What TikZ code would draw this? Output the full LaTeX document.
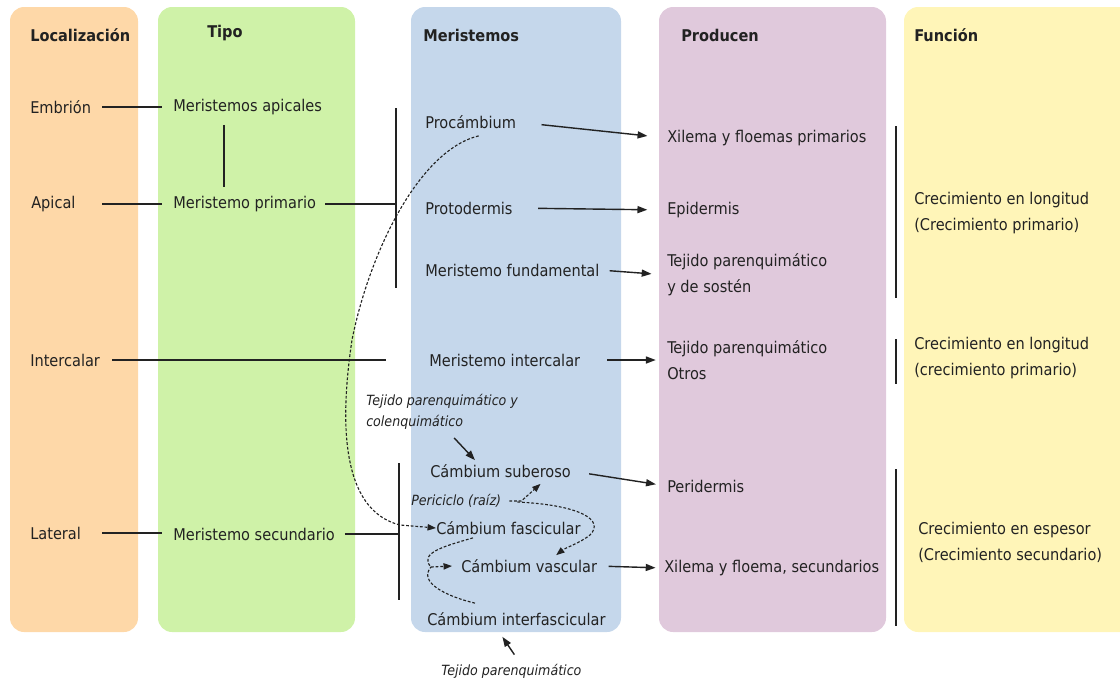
\documentclass[tikz,border=0pt]{standalone}
\usepackage{fontspec}
\setmainfont{DejaVu Sans Condensed}
\usetikzlibrary{arrows.meta,calc}

\definecolor{colLoc}{HTML}{FED8A8}
\definecolor{colTipo}{HTML}{CFF2A8}
\definecolor{colMer}{HTML}{C5D7EB}
\definecolor{colProd}{HTML}{E0C9DC}
\definecolor{colFun}{HTML}{FFF5B8}
\definecolor{ink}{HTML}{222222}

\begin{document}
\begin{tikzpicture}[x=0.025cm,y=-0.025cm,
    txt/.style={anchor=west,inner sep=0pt,align=left,text=ink,font=\fontsize{11.5}{18.5}\selectfont},
    hdr/.style={txt,font=\fontsize{11.5}{18.5}\selectfont\bfseries},
    note/.style={anchor=west,inner sep=0pt,align=left,text=ink,font=\fontsize{10}{15}\selectfont\itshape},
    colbox/.style={rounded corners=10pt},
    link/.style={line width=1pt,draw=ink},
    arr/.style={line width=1pt,draw=ink,-{Triangle[length=7pt,width=5pt]}},
    dots/.style={line width=0.8pt,draw=ink,dash pattern=on 2pt off 1.3pt}]
    \clip (0,0) rectangle (1120,680);
    % columns
    \fill[colLoc,colbox] (10,7) rectangle (138,632);
    \fill[colTipo,colbox] (158,7) rectangle (355,632);
    \fill[colMer,colbox] (411,7) rectangle (621,632);
    \fill[colProd,colbox] (659,7) rectangle (886,632);
    \fill[colFun,colbox] (904,7) rectangle (1150,632);
    % headers
    \node[hdr] (hLoc) at (30,35) {Localización};
    \node[hdr] (hTipo) at (207,33) {Tipo};
    \node[hdr] (hMer) at (423,35) {Meristemos};
    \node[hdr] (hProd) at (681,35) {Producen};
    \node[hdr] (hFun) at (914,35) {Función};
    % localizacion
    \node[txt] (embrion) at (30,107) {Embrión};
    \node[txt] (apical) at (31,204) {Apical};
    \node[txt] (intercalar) at (30,360) {Intercalar};
    \node[txt] (lateral) at (30,533) {Lateral};
    % tipo
    \node[txt] (apicales) at (173,107) {Meristemos apicales};
    \node[txt] (primario) at (173,204) {Meristemo primario};
    \node[txt] (secundario) at (173,534) {Meristemo secundario};
    % meristemos
    \node[txt] (procambium) at (425,122) {Procámbium};
    \node[txt] (protodermis) at (425,208) {Protodermis};
    \node[txt] (fundamental) at (425,270) {Meristemo fundamental};
    \node[txt] (merInter) at (429,360) {Meristemo intercalar};
    \node[note] (tejColen) at (366,412) {Tejido parenquimático y\\colenquimático};
    \node[txt] (suberoso) at (430,471) {Cámbium suberoso};
    \node[note] (periciclo) at (411,501) {Periciclo (raíz)};
    \node[txt] (fascicular) at (436,528) {Cámbium fascicular};
    \node[txt] (vascular) at (461,566) {Cámbium vascular};
    \node[txt] (interfasc) at (427,619) {Cámbium interfascicular};
    \node[note] (tejBottom) at (441,671) {Tejido parenquimático};
    % producen
    \node[txt] (xilemaP) at (667,138) {Xilema y floemas primarios};
    \node[txt] (epidermis) at (667,210) {Epidermis};
    \node[txt] (tejSosten) at (667,275) {Tejido parenquimático\\y de sostén};
    \node[txt] (tejOtros) at (667,360) {Tejido parenquimático\\Otros};
    \node[txt] (peridermis) at (667,486) {Peridermis};
    \node[txt] (xilemaS) at (664,568) {Xilema y floema, secundarios};
    % funcion
    \node[txt] (funPrim) at (914,213) {Crecimiento en longitud\\(Crecimiento primario)};
    \node[txt] (funInter) at (914,358) {Crecimiento en longitud\\(crecimiento primario)};
    \node[txt] (funSec) at (918,542) {Crecimiento en espesor\\(Crecimiento secundario)};

    % plain links
    \coordinate (locEdge) at (102,0);
    \coordinate (tipoEdge) at (162,0);
    \coordinate (tipoV) at (224,0);
    \coordinate (brPrimTop) at (396,108);
    \coordinate (brPrimBot) at (396,288);
    \coordinate (brSecTop) at (399,463);
    \coordinate (brSecBot) at (399,600);
    \coordinate (interEnd) at (386,360);
    \draw[link] (locEdge |- embrion.east) -- (tipoEdge |- embrion.east);
    \draw[link] (locEdge |- apical.east) -- (tipoEdge |- apical.east);
    \draw[link] (locEdge |- lateral.east) -- (tipoEdge |- lateral.east);
    \draw[link,shorten <=7pt,shorten >=6pt] (tipoV |- apicales.south) -- (tipoV |- primario.north);
    \draw[link,shorten <=8.5pt] (intercalar.east) -- (interEnd);
    \draw[link] (brPrimTop) -- (brPrimBot);
    \draw[link,shorten <=6.5pt] (primario.east) -- (brPrimTop |- primario.east);
    \draw[link] (brSecTop) -- (brSecBot);
    \draw[link,shorten <=7pt] (secundario.east) -- (brSecTop |- secundario.east);

    % arrows to producen
    \draw[arr,shorten <=18pt,shorten >=14pt] (procambium.east) -- (xilemaP.west);
    \draw[arr,shorten <=18pt,shorten >=14pt] (protodermis.east) -- (epidermis.west);
    \draw[arr,shorten <=7pt,shorten >=11pt] (fundamental.east) -- (tejSosten.west);
    \draw[arr,shorten <=19pt,shorten >=8pt] (merInter.east) -- (tejOtros.west);
    \draw[arr,shorten <=13pt,shorten >=8pt] (suberoso.east) -- (peridermis.west);
    \draw[arr,shorten <=8pt,shorten >=6pt] (vascular.east) -- (xilemaS.west);

    % brackets before funcion
    \coordinate (brFunA) at (896,126);
    \coordinate (brFunB) at (896,298);
    \coordinate (brFunC) at (896,339);
    \coordinate (brFunD) at (896,384);
    \coordinate (brFunE) at (896,469);
    \coordinate (brFunF) at (896,626);
    \draw[link] (brFunA) -- (brFunB);
    \draw[link] (brFunC) -- (brFunD);
    \draw[link] (brFunE) -- (brFunF);

    % origin notes
    \draw[arr] ($(tejColen.south)+(12,8)$) -- ($(suberoso.north west)+(45,-4)$);
    \draw[arr] ($(tejBottom.north)+(3,-9)$) -- ($(interfasc.south)+(-14,11)$);

    % dashed paths
    \draw[dots,-{Triangle[length=6pt,width=4.5pt]}] ($(procambium.south)+(8,7)$)
        .. controls (420,150) and (370,250) .. (352,340)
        .. controls (340,420) and (340,510) .. (400,525) -- (fascicular.west);
    \draw[dots,-{Triangle[length=6pt,width=4.5pt]}] ($(periciclo.east)+(8,0)$) -- ++(12,0)
        -- ($(suberoso.south)+(40,6)$);
    \draw[dots,-{Triangle[length=6pt,width=4.5pt]}] ($(periciclo.east)+(16,1)$)
        .. controls (580,505) and (605,520) .. (590,535)
        .. controls (580,543) and (565,548) .. ($(vascular.north)+(27,-4)$);
    \coordinate (vasJoin) at (431,567);
    \draw[dots] ($(fascicular.south west)+(37,3)$) .. controls (445,546) and (418,553) .. (vasJoin);
    \draw[dots] ($(interfasc.north west)+(48,-9)$) .. controls (445,596) and (418,582) .. (vasJoin);
    \draw[dots,-{Triangle[length=6pt,width=4.5pt]}] (vasJoin) -- ($(vascular.west)+(-9,0)$);
\end{tikzpicture}
\end{document}
